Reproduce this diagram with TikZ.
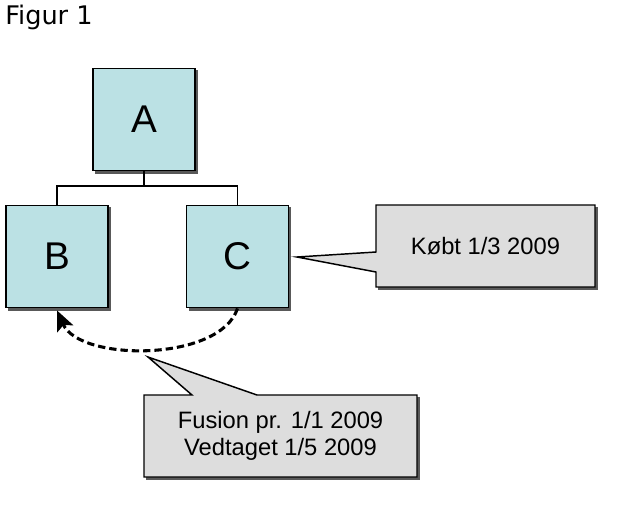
\documentclass[tikz,border=0pt]{standalone}
\usepackage{fontspec}
\setmainfont{Liberation Sans}
\newfontfamily\figfont{DejaVu Sans}
\usetikzlibrary{arrows.meta}
\definecolor{boxfill}{RGB}{187,225,228}
\definecolor{callfill}{RGB}{221,221,221}
\begin{document}
\begin{tikzpicture}[x=0.75pt,y=-0.75pt,
  orgbox/.style={draw=black,line width=1.4pt,fill=boxfill,minimum width=76.5pt,minimum height=76.5pt,inner sep=0pt,font=\fontsize{29}{30}\selectfont},
  shade/.style={fill=black!65,draw=none},
  calloutshape/.style={draw=black,line width=1.1pt,fill=callfill},
  callouttext/.style={font=\fontsize{17.8}{20.5}\selectfont,align=center,inner sep=0pt},
  tree/.style={draw=black,line width=1.1pt},
  merge/.style={line width=2.3pt,dash pattern=on 5.5pt off 3pt,-{Stealth[length=15pt,width=13pt,inset=3pt]}}]
\useasboundingbox (0,0) rectangle (630,508);
\fill[white] (0,0) rectangle (630,508);
% title
\node[anchor=base west,inner sep=0pt,font=\figfont\fontsize{19.2}{22}\selectfont] (title) at (5,24) {Figur 1};
% shadows
\fill[shade] (95,70) rectangle (197.5,173.5);
\fill[shade] (8,207) rectangle (110.5,310.5);
\fill[shade] (189,207) rectangle (290.5,310.5);
% boxes
\node[orgbox] (A) at (144,119.5) {A};
\node[orgbox] (B) at (57,256.5) {B};
\node[orgbox] (C) at (237.5,256.5) {C};
% tree connectors
\coordinate (split) at (145,186);
\draw[tree] (A.south) -- (A.south |- split) -| (B.north);
\draw[tree] (A.south |- split) -| (C.north);
% callout 1
\fill[shade] (378,207) rectangle (597.5,289.5);
\draw[calloutshape] (376,205) -- (595,205) -- (595,287) -- (376,287) -- (376,272) -- (297,257) -- (376,252) -- cycle;
\node[callouttext] (k) at (485.5,246) {Købt 1/3 2009};
\coordinate (ktip) at (297,257);
% callout 2
\fill[shade] (146,397) rectangle (419.5,479.5);
\draw[calloutshape] (144,395) -- (192,395) -- (148,357) -- (257,395) -- (417,395) -- (417,477) -- (144,477) -- cycle;
\node[callouttext] (f) at (280.5,436) {Fusion pr. 1/1 2009\\Vedtaget 1/5 2009};
% merge arrow
\draw[merge] (C.south) .. controls (220,362) and (80,362) .. ([yshift=-1.5pt]B.south);
\end{tikzpicture}
\end{document}
